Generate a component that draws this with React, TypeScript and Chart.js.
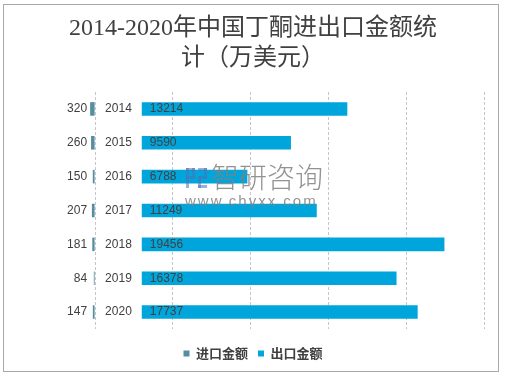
import React, { useEffect, useRef } from "react";
import { Chart, registerables } from "chart.js";

Chart.register(...registerables);

const years = ["2014", "2015", "2016", "2017", "2018", "2019", "2020"];
const importValues = [320, 260, 150, 207, 181, 84, 147];
const exportValues = [13214, 9590, 6788, 11249, 19456, 16378, 17737];
const gridTicks = [0, 5000, 10000, 15000, 20000, 25000];
const labelGap = 3000; // empty space in the stack where the year labels sit
const seriesNames = ["进口金额", "出口金额"];
const titleLines = ["2014-2020年中国丁酮进出口金额统", "计（万美元）"];

const IMPORT_COLOR = "#548FA1";
const EXPORT_COLOR = "#00A6DB";
const TEXT_COLOR = "#404040";
const LABEL_FONT = "12px 'Liberation Sans', 'Noto Sans', sans-serif";

const framePlugin = {
  id: "frame",
  beforeDraw(chart: any) {
    const ctx = chart.ctx;
    ctx.save();
    ctx.fillStyle = "#ffffff";
    ctx.fillRect(0, 0, chart.width, chart.height);
    ctx.strokeStyle = "#A8A8A8";
    ctx.lineWidth = 1;
    ctx.strokeRect(3.5, 4.5, 495, 367);
    ctx.restore();
  },
};

const labelPlugin = {
  id: "barLabels",
  afterDatasetsDraw(chart: any) {
    const ctx = chart.ctx;
    const xs = chart.scales.x;
    const meta = chart.getDatasetMeta(0);
    const x0 = xs.getPixelForValue(0);
    const xe = xs.getPixelForValue(labelGap);
    ctx.save();
    ctx.font = LABEL_FONT;
    ctx.fillStyle = TEXT_COLOR;
    ctx.textBaseline = "middle";
    years.forEach((yr, i) => {
      const y = meta.data[i].y;
      ctx.textAlign = "right";
      ctx.fillText(String(importValues[i]), x0 - 8, y);
      ctx.textAlign = "left";
      ctx.fillText(yr, x0 + 10, y);
      ctx.fillText(String(exportValues[i]), xe + 8, y);
    });
    ctx.restore();
  },
};

const watermarkPlugin = {
  id: "watermark",
  afterDraw(chart: any) {
    const ctx = chart.ctx;
    ctx.save();
    ctx.globalAlpha = 0.55;
    // simple logo mark
    ctx.fillStyle = "#4A72B8";
    ctx.fillRect(186, 168, 9, 3);
    ctx.fillRect(186, 168, 3, 20);
    ctx.fillRect(192, 168, 3, 10);
    ctx.fillRect(186, 176, 9, 3);
    ctx.fillRect(198, 168, 9, 3);
    ctx.fillRect(204, 168, 3, 10);
    ctx.fillRect(198, 176, 9, 3);
    ctx.fillRect(198, 176, 3, 12);
    ctx.fillRect(198, 185, 9, 3);
    ctx.globalAlpha = 0.85;
    ctx.fillStyle = "#808080";
    ctx.textBaseline = "alphabetic";
    ctx.textAlign = "left";
    ctx.font = "300 28px 'Noto Sans CJK SC', sans-serif";
    ctx.fillText("智研咨询", 211, 188);
    ctx.font = "15px 'Liberation Sans', sans-serif";
    (ctx as any).letterSpacing = "2px";
    ctx.fillText("www.chyxx.com", 185, 206);
    ctx.restore();
  },
};

export default function App() {
  const canvasRef = useRef<HTMLCanvasElement | null>(null);

  useEffect(() => {
    document.body.style.margin = "0";
    const canvas = canvasRef.current;
    if (!canvas) return;
    const chart = new Chart(canvas, {
      type: "bar",
      data: {
        labels: years,
        datasets: [
          {
            label: seriesNames[0],
            data: importValues.map((v) => -v),
            backgroundColor: IMPORT_COLOR,
          },
          {
            label: "spacer",
            data: years.map(() => labelGap),
            backgroundColor: "rgba(0,0,0,0)",
          },
          {
            label: seriesNames[1],
            data: exportValues,
            backgroundColor: EXPORT_COLOR,
          },
        ],
      },
      options: {
        indexAxis: "y",
        animation: false,
        responsive: false,
        maintainAspectRatio: false,
        datasets: {
          bar: {
            categoryPercentage: 1,
            barPercentage: 0.4,
          },
        },
        layout: { padding: { left: 22, right: 24, top: 0, bottom: 8 } },
        scales: {
          x: {
            stacked: true,
            min: -2000,
            max: 25000,
            afterBuildTicks: (axis: any) => {
              axis.ticks = gridTicks.map((v) => ({ value: v }));
            },
            ticks: { display: false },
            border: { display: false, dash: [3, 2] },
            grid: {
              color: "#C8C4CC",
              lineWidth: 1,
              drawTicks: true,
              tickLength: 8,
              tickColor: "rgba(0,0,0,0)",
            },
          },
          y: {
            stacked: true,
            ticks: { display: false },
            grid: { display: false },
            border: { display: false },
            afterFit: (scale: any) => {
              scale.width = 42;
            },
          },
        },
        plugins: {
          title: {
            display: true,
            text: titleLines,
            color: TEXT_COLOR,
            font: {
              family: "'Liberation Serif', 'Noto Sans CJK SC', serif",
              size: 24,
              weight: "normal",
              lineHeight: 1.25,
            },
            padding: { top: 14, bottom: 18 },
          },
          legend: {
            position: "bottom",
            labels: {
              boxWidth: 6,
              boxHeight: 6,
              padding: 10,
              color: TEXT_COLOR,
              font: {
                family: "'Noto Sans CJK SC', sans-serif",
                size: 13,
                weight: "bold",
              },
              filter: (item: any) => item.datasetIndex !== 1,
            },
          },
          tooltip: { enabled: false },
        },
      },
      plugins: [framePlugin, labelPlugin, watermarkPlugin],
    } as any);
    return () => chart.destroy();
  }, []);

  return (
    <div style={{ width: 508, height: 378, position: "relative" }}>
      <canvas ref={canvasRef} width={508} height={378} style={{ display: "block" }} />
    </div>
  );
}
